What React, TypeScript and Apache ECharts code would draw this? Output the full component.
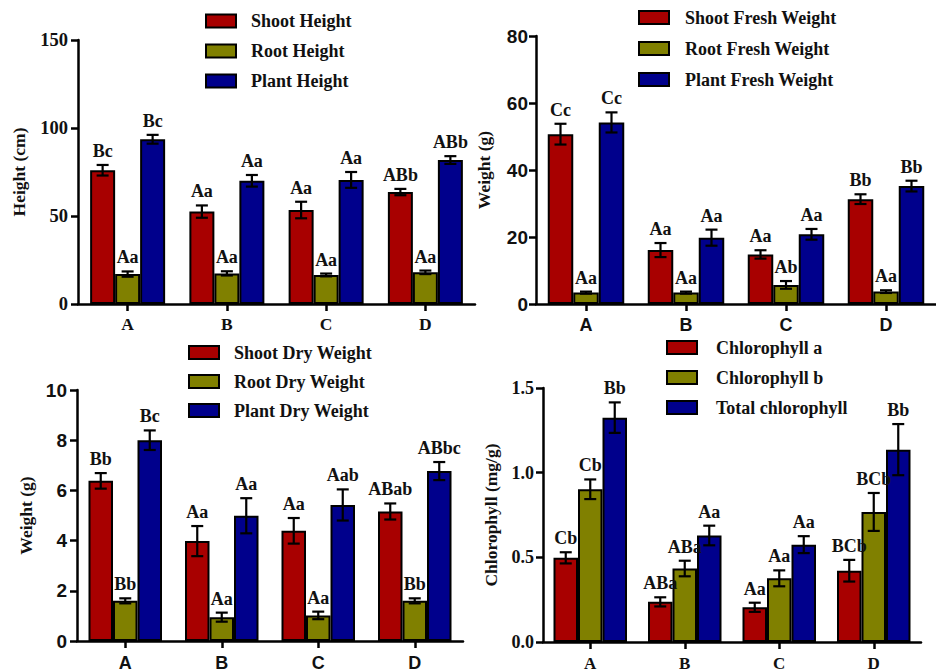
import React, { useEffect, useRef } from 'react';
import * as echarts from 'echarts';

const categories = ['A', 'B', 'C', 'D'];

// Panel 1: Height (cm)
const heightNames = ['Shoot Height', 'Root Height', 'Plant Height'];
const shootHeight = [76, 52.5, 53.4, 63.6];
const shootHeightErr = [3, 3.5, 4.7, 1.8];
const rootHeight = [17, 17.4, 16.5, 18];
const rootHeightErr = [1.5, 1.2, 0.8, 1];
const plantHeight = [93.6, 70, 70.5, 81.8];
const plantHeightErr = [2.5, 3.3, 4.5, 2.2];
const shootHeightLabels = ['Bc', 'Aa', 'Aa', 'ABb'];
const rootHeightLabels = ['Aa', 'Aa', 'Aa', 'Aa'];
const plantHeightLabels = ['Bc', 'Aa', 'Aa', 'ABb'];

// Panel 2: Fresh weight (g)
const freshNames = ['Shoot Fresh Weight', 'Root Fresh Weight', 'Plant Fresh Weight'];
const shootFresh = [50.7, 16.1, 14.8, 31.3];
const shootFreshErr = [3.1, 2.1, 1.25, 1.45];
const rootFresh = [3.4, 3.4, 5.7, 3.7];
const rootFreshErr = [0.3, 0.3, 1.15, 0.4];
const plantFresh = [54.2, 19.8, 20.8, 35.2];
const plantFreshErr = [3, 2.4, 1.6, 1.6];
const shootFreshLabels = ['Cc', 'Aa', 'Aa', 'Bb'];
const rootFreshLabels = ['Aa', 'Aa', 'Ab', 'Aa'];
const plantFreshLabels = ['Cc', 'Aa', 'Aa', 'Bb'];

// Panel 3: Dry weight (g)
const dryNames = ['Shoot Dry Weight', 'Root Dry Weight', 'Plant Dry Weight'];
const shootDry = [6.38, 3.98, 4.39, 5.16];
const shootDryErr = [0.31, 0.6, 0.51, 0.32];
const rootDry = [1.6, 0.95, 1.02, 1.6];
const rootDryErr = [0.1, 0.18, 0.15, 0.1];
const plantDry = [8.0, 4.99, 5.42, 6.77];
const plantDryErr = [0.39, 0.7, 0.62, 0.36];
const shootDryLabels = ['Bb', 'Aa', 'Aa', 'ABab'];
const rootDryLabels = ['Bb', 'Aa', 'Aa', 'Bb'];
const plantDryLabels = ['Bc', 'Aa', 'Aab', 'ABbc'];

// Panel 4: Chlorophyll (mg/g)
const chlNames = ['Chlorophyll a', 'Chlorophyll b', 'Total chlorophyll'];
const chlA = [0.497, 0.237, 0.205, 0.421];
const chlAErr = [0.033, 0.027, 0.027, 0.064];
const chlB = [0.902, 0.434, 0.376, 0.768];
const chlBErr = [0.058, 0.046, 0.047, 0.112];
const chlTotal = [1.325, 0.629, 0.575, 1.136];
const chlTotalErr = [0.09, 0.058, 0.05, 0.151];
const chlALabels = ['Cb', 'ABa', 'Aa', 'BCb'];
const chlBLabels = ['Cb', 'ABa', 'Aa', 'BCb'];
const chlTotalLabels = ['Bb', 'Aa', 'Aa', 'Bb'];

const COLORS = ['#A80000', '#808000', '#00008C'];
const SERIF = '"Liberation Serif", "Times New Roman", serif';
const SANS = '"Liberation Sans", Arial, sans-serif';

type PanelDef = {
  names: string[];
  values: number[][];
  errs: number[][];
  labels: string[][];
  grid: { left: number; top: number; width: number; height: number };
  yMax: number;
  yInterval: number;
  yName: string;
  yNameGap: number;
  tickFont: string;
  tickSize: number;
  tickMargin: number;
  xFont: string;
  xSize: number;
  xMargin: number;
  yFormatter?: (v: number) => string;
  barW: number;
  legend: { left: number; top: number; gap: number; pad: number };
};

const panels: PanelDef[] = [
  {
    names: heightNames,
    values: [shootHeight, rootHeight, plantHeight],
    errs: [shootHeightErr, rootHeightErr, plantHeightErr],
    labels: [shootHeightLabels, rootHeightLabels, plantHeightLabels],
    grid: { left: 78, top: 40, width: 397, height: 264 },
    yMax: 150, yInterval: 50, yName: 'Height (cm)', yNameGap: 50,
    tickFont: SERIF, tickSize: 18.5, tickMargin: 10,
    xFont: SERIF, xSize: 17.5, xMargin: 11,
    barW: 25,
    legend: { left: 205, top: 12, gap: 12, pad: 10 },
  },
  {
    names: freshNames,
    values: [shootFresh, rootFresh, plantFresh],
    errs: [shootFreshErr, rootFreshErr, plantFreshErr],
    labels: [shootFreshLabels, rootFreshLabels, plantFreshLabels],
    grid: { left: 536, top: 36, width: 400, height: 268 },
    yMax: 80, yInterval: 20, yName: 'Weight (g)', yNameGap: 43,
    tickFont: SANS, tickSize: 19, tickMargin: 8,
    xFont: SANS, xSize: 18, xMargin: 12,
    barW: 25.5,
    legend: { left: 638, top: 8.5, gap: 13, pad: 11 },
  },
  {
    names: dryNames,
    values: [shootDry, rootDry, plantDry],
    errs: [shootDryErr, rootDryErr, plantDryErr],
    labels: [shootDryLabels, rootDryLabels, plantDryLabels],
    grid: { left: 77, top: 390, width: 386, height: 256 },
    yMax: 10, yInterval: 2, yName: 'Weight (g)', yNameGap: 42,
    tickFont: SANS, tickSize: 19, tickMargin: 10,
    xFont: SANS, xSize: 18, xMargin: 13,
    barW: 24.5,
    legend: { left: 188, top: 343.5, gap: 11, pad: 10 },
  },
  {
    names: chlNames,
    values: [chlA, chlB, chlTotal],
    errs: [chlAErr, chlBErr, chlTotalErr],
    labels: [chlALabels, chlBLabels, chlTotalLabels],
    grid: { left: 543, top: 388, width: 378, height: 256 },
    yMax: 1.5, yInterval: 0.5, yName: 'Chlorophyll (mg/g)', yNameGap: 43,
    tickFont: SERIF, tickSize: 18, tickMargin: 9,
    xFont: SERIF, xSize: 17, xMargin: 13,
    yFormatter: (v: number) => v.toFixed(1),
    barW: 24.5,
    legend: { left: 666, top: 338.5, gap: 12, pad: 14 },
  },
];

function buildOption() {
  const grid: any[] = [];
  const xAxis: any[] = [];
  const yAxis: any[] = [];
  const series: any[] = [];
  const legend: any[] = [];

  panels.forEach((p, gi) => {
    grid.push({ ...p.grid, containLabel: false });
    xAxis.push({
      type: 'category',
      gridIndex: gi,
      data: categories,
      axisLine: { lineStyle: { color: '#000', width: 2.5 } },
      axisTick: { show: true, alignWithLabel: true, length: 7, lineStyle: { color: '#000', width: 2.5 } },
      axisLabel: { fontFamily: p.xFont, fontWeight: 'bold', fontSize: p.xSize, color: '#111', margin: p.xMargin },
      splitLine: { show: false },
    });
    yAxis.push({
      type: 'value',
      gridIndex: gi,
      min: 0,
      max: p.yMax,
      interval: p.yInterval,
      name: p.yName,
      nameLocation: 'middle',
      nameGap: p.yNameGap,
      nameRotate: 90,
      nameTextStyle: { fontFamily: SERIF, fontWeight: 'bold', fontSize: 17.5, color: '#111' },
      axisLine: { show: true, lineStyle: { color: '#000', width: 2.5 } },
      axisTick: { show: true, length: 7, lineStyle: { color: '#000', width: 2.5 } },
      axisLabel: {
        fontFamily: p.tickFont, fontWeight: 'bold', fontSize: p.tickSize, color: '#111', margin: p.tickMargin,
        formatter: p.yFormatter,
      },
      splitLine: { show: false },
    });
    legend.push({
      data: p.names,
      orient: 'vertical',
      left: p.legend.left,
      top: p.legend.top,
      padding: 0,
      itemWidth: 30,
      itemHeight: 13,
      itemGap: p.legend.gap,
      selectedMode: false,
      icon: 'rect',
      itemStyle: { borderColor: '#000', borderWidth: 2 },
      textStyle: {
        fontFamily: SERIF, fontWeight: 'bold', fontSize: 18, color: '#111',
        lineHeight: 18, padding: [0, 0, 0, p.legend.pad],
      },
    });
    p.names.forEach((name, si) => {
      series.push({
        type: 'bar',
        name,
        xAxisIndex: gi,
        yAxisIndex: gi,
        data: p.values[si],
        barWidth: p.barW,
        barGap: '0%',
        itemStyle: { color: COLORS[si], borderColor: '#000', borderWidth: 2 },
        z: 2,
      });
    });
    p.names.forEach((name, si) => {
      const labels = p.labels[si];
      const offset = (si - 1) * p.barW;
      series.push({
        type: 'custom',
        name: name + ' SE',
        xAxisIndex: gi,
        yAxisIndex: gi,
        z: 5,
        clip: false,
        silent: true,
        data: p.values[si].map((v, i) => [i, v, p.errs[si][i]]),
        encode: { x: 0, y: 1 },
        renderItem: (params: any, api: any) => {
          const c = api.value(0);
          const v = api.value(1);
          const e = api.value(2);
          const top = api.coord([c, v + e]);
          const bot = api.coord([c, v - e]);
          const x = top[0] + offset;
          const cap = 6;
          const style = { stroke: '#000', lineWidth: 2.2 };
          return {
            type: 'group',
            children: [
              { type: 'line', shape: { x1: x, y1: top[1], x2: x, y2: bot[1] }, style },
              { type: 'line', shape: { x1: x - cap, y1: top[1], x2: x + cap, y2: top[1] }, style },
              { type: 'line', shape: { x1: x - cap, y1: bot[1], x2: x + cap, y2: bot[1] }, style },
              {
                type: 'text',
                x,
                y: top[1] - 5,
                style: {
                  text: labels[params.dataIndex],
                  align: 'center',
                  verticalAlign: 'bottom',
                  fontFamily: SERIF,
                  fontWeight: 'bold',
                  fontSize: 18,
                  fill: '#111',
                },
              },
            ],
          };
        },
      });
    });
  });

  return {
    animation: false,
    backgroundColor: '#fff',
    grid,
    xAxis,
    yAxis,
    legend,
    series,
  };
}

export default function App() {
  const ref = useRef<HTMLDivElement>(null);
  useEffect(() => {
    if (!ref.current) return;
    const chart = echarts.init(ref.current, undefined, { renderer: 'svg' });
    chart.setOption(buildOption() as any);
    return () => chart.dispose();
  }, []);
  return (
    <div
      ref={ref}
      style={{ position: 'absolute', left: 0, top: 0, width: 936, height: 672, background: '#fff' }}
    />
  );
}
